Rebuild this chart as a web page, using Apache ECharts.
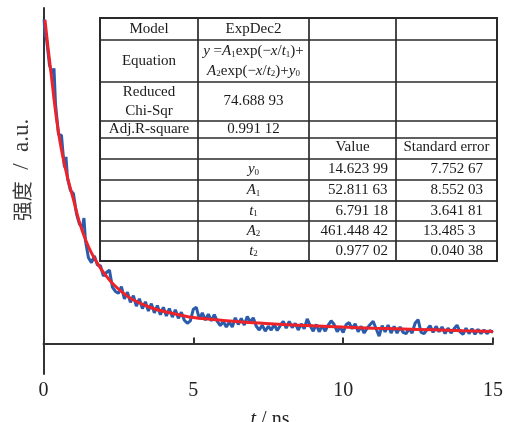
<!DOCTYPE html>
<html>
<head>
<meta charset="utf-8">
<script src="https://cdn.jsdelivr.net/npm/echarts@6/dist/echarts.min.js"></script>
<style>
  html, body { margin: 0; padding: 0; background: #fff; }
  #chart { width: 506px; height: 422px; }
</style>
</head>
<body>
<div id="chart"></div>
<script>
// Measured fluorescence decay (time in ns, intensity in a.u.)
const decayTime = [
  0.02, 0.05, 0.1, 0.2, 0.3, 0.35, 0.4, 0.5, 0.6, 0.65, 0.7, 0.75, 0.8, 0.9,
  1.0, 1.1, 1.2, 1.3, 1.35, 1.4, 1.5, 1.6, 1.7, 1.8, 1.9,
  2.0, 2.1, 2.2, 2.3, 2.4, 2.5, 2.6, 2.7, 2.8, 2.9,
  3.0, 3.1, 3.2, 3.3, 3.4, 3.5, 3.6, 3.7, 3.8, 3.9,
  4.0, 4.1, 4.2, 4.3, 4.4, 4.5, 4.6, 4.7, 4.8, 4.9,
  5.0, 5.1, 5.2, 5.3, 5.4, 5.5, 5.6, 5.7, 5.8, 5.9,
  6.0, 6.1, 6.2, 6.3, 6.4, 6.5, 6.6, 6.7, 6.8, 6.9,
  7.0, 7.1, 7.2, 7.3, 7.4, 7.5, 7.6, 7.7, 7.8, 7.9,
  8.0, 8.1, 8.2, 8.3, 8.4, 8.5, 8.6, 8.7, 8.8, 8.9,
  9.0, 9.1, 9.2, 9.3, 9.4, 9.5, 9.6, 9.7, 9.8, 9.9,
  10.0, 10.1, 10.2, 10.3, 10.4, 10.5, 10.6, 10.7, 10.8, 10.9,
  11.0, 11.1, 11.2, 11.3, 11.4, 11.5, 11.6, 11.7, 11.8, 11.9,
  12.0, 12.1, 12.2, 12.3, 12.4, 12.5, 12.6, 12.7, 12.8, 12.9,
  13.0, 13.1, 13.2, 13.3, 13.4, 13.5, 13.6, 13.7, 13.8, 13.9,
  14.0, 14.1, 14.2, 14.3, 14.4, 14.5, 14.6, 14.7, 14.8, 14.9, 15.0
];
const decayIntensity = [
  530, 505, 498, 455, 440, 450, 392, 342, 340, 312, 288, 305, 270, 250,
  245, 212, 195, 190, 205, 168, 140, 132, 143, 128, 127,
  110, 116, 120, 92, 85, 82, 93, 73, 84, 67,
  78, 61, 73, 57, 68, 53, 65, 50, 62, 47,
  59, 45, 57, 43, 55, 41, 51, 38, 33, 37,
  56, 59, 40, 50, 38, 48, 37, 47, 36, 29,
  36, 27, 35, 27, 42, 31, 41, 30, 44, 35,
  42, 28, 22, 30, 20, 28, 22, 31, 21, 29,
  36, 25, 36, 26, 33, 22, 32, 24, 40, 29,
  20, 31, 19, 29, 20, 30, 37, 31, 19, 27,
  18, 31, 34, 24, 32, 19, 28, 17, 25, 31,
  36, 24, 12, 29, 19, 30, 17, 28, 17, 27,
  18, 16, 24, 17, 33, 39, 18, 16, 23, 29,
  18, 28, 19, 27, 16, 25, 17, 24, 30, 19,
  15, 25, 16, 24, 15, 23, 16, 22, 16, 21, 18
];

// ExpDec2 fitted curve
const fitTime = [0.05, 0.15, 0.25, 0.35, 0.45, 0.55, 0.65, 0.75, 0.85, 1.0, 1.2, 1.4, 1.6, 1.8, 2.0,
  2.25, 2.5, 2.75, 3.0, 3.5, 4.0, 4.5, 5.0, 6, 7, 8, 9, 10, 11, 12, 13, 14, 15];
const fitIntensity = [529, 484, 443, 400, 362, 330, 304, 282, 262, 235, 198, 170, 148, 131, 116,
  101, 89, 79, 71, 60, 52.5, 47, 42.5, 37.5, 33.8, 31, 28.7, 26.7, 25, 23.6, 22.2, 20.8, 19.5];

const xTicks = [0, 5, 10, 15];

// Fit report table
const summaryLabels = ['Model', 'Equation', 'Reduced\nChi-Sqr', 'Adj.R-square'];
const summaryValues = ['ExpDec2', null, '74.688 93', '0.991 12'];
const equationLines = [
  '{i|y} ={i|A}{s|1}exp(\u2212{i|x}/{i|t}{s|1})+',
  '{i|A}{s|2}exp(\u2212{i|x}/{i|t}{s|2})+{i|y}{s|0}'
];
const paramHeaders = ['Value', 'Standard error'];
const paramNames = ['{i|y}{s|0}', '{i|A}{s|1}', '{i|t}{s|1}', '{i|A}{s|2}', '{i|t}{s|2}'];
const paramValues = ['14.623 99', '52.811 63', '6.791 18', '461.448 42', '0.977 02'];
const paramErrors = ['7.752 67', '8.552 03', '3.641 81', '13.485 3', '0.040 38'];

const SERIF = '"Liberation Serif", "Times New Roman", serif';
const TXT = '#1a1a1a';
const richStyles = {
  i: { fontStyle: 'italic', fontFamily: SERIF, fontSize: 15, fill: TXT },
  s: { fontFamily: SERIF, fontSize: 9, verticalAlign: 'bottom', fill: TXT }
};

const chart = echarts.init(document.getElementById('chart'), null, { renderer: 'canvas' });

// table geometry
const colX = [100, 198, 309, 396, 497];
const rowY = [18, 40, 82, 121, 138, 159, 180, 201, 221, 241, 261];
const lineColor = '#2a2a2a';

function cellText(text, x, y, align, extra) {
  return Object.assign({
    type: 'text', z: 20, x: x, y: y,
    style: {
      text: text, fontFamily: SERIF, fontSize: 15, fill: TXT,
      align: align || 'center', verticalAlign: 'middle', rich: richStyles
    }
  }, extra || {});
}

const tableEls = [];
tableEls.push({
  type: 'rect', z: 10,
  shape: { x: colX[0], y: rowY[0], width: colX[4] - colX[0], height: rowY[10] - rowY[0] },
  style: { fill: '#fff', stroke: lineColor, lineWidth: 2 }
});
for (let r = 1; r < rowY.length - 1; r++) {
  tableEls.push({ type: 'line', z: 11, shape: { x1: colX[0], y1: rowY[r], x2: colX[4], y2: rowY[r] },
    style: { stroke: lineColor, lineWidth: 1.7 } });
}
for (let c = 1; c < colX.length - 1; c++) {
  tableEls.push({ type: 'line', z: 11, shape: { x1: colX[c], y1: rowY[0], x2: colX[c], y2: rowY[10] },
    style: { stroke: lineColor, lineWidth: 1.7 } });
}
const mid = (a, b) => (a + b) / 2;
const c1 = mid(colX[0], colX[1]), c2 = mid(colX[1], colX[2]);
const c3 = mid(colX[2], colX[3]), c4 = mid(colX[3], colX[4]);

// summary rows
summaryLabels.forEach((lab, i) => {
  const yc = mid(rowY[i], rowY[i + 1]);
  if (lab.indexOf('\n') >= 0) {
    const parts = lab.split('\n');
    tableEls.push(cellText(parts[0], c1, yc - 9.5));
    tableEls.push(cellText(parts[1], c1, yc + 9.5));
  } else {
    tableEls.push(cellText(lab, c1, yc));
  }
  if (summaryValues[i] !== null) tableEls.push(cellText(summaryValues[i], c2, yc));
});
tableEls.push(cellText(equationLines[0], c2, 51.5));
tableEls.push(cellText(equationLines[1], c2, 71));

// parameter header
tableEls.push(cellText(paramHeaders[0], c3, mid(rowY[4], rowY[5]) - 1));
tableEls.push(cellText(paramHeaders[1], c4, mid(rowY[4], rowY[5]) - 1));

// parameter rows, numbers aligned on the decimal point
const dot3 = 343, dot4 = 438;
function decimalCell(str, xDot, yc) {
  const k = str.indexOf('.');
  return [cellText(str.slice(0, k), xDot, yc, 'right'), cellText(str.slice(k), xDot, yc, 'left')];
}
paramNames.forEach((nm, i) => {
  const yc = mid(rowY[5 + i], rowY[6 + i]);
  tableEls.push(cellText(nm, c2, yc));
  tableEls.push(...decimalCell(paramValues[i], dot3, yc));
  tableEls.push(...decimalCell(paramErrors[i], dot4, yc));
});

// axis titles
const axisTitles = [
  {
    type: 'text', z: 20, x: 22, y: 170, rotation: Math.PI / 2,
    style: {
      text: '{c|强度}\u2002/\u2002a.u.', fontFamily: SERIF, fontSize: 23, fill: '#3a3a3a',
      align: 'center', verticalAlign: 'middle',
      rich: { c: { fontFamily: '"Noto Sans CJK SC", sans-serif', fontSize: 20, fill: '#3a3a3a' } }
    }
  },
  {
    type: 'text', z: 20, x: 270, y: 420,
    style: {
      text: '{i|t} / ns', fontFamily: SERIF, fontSize: 20, fill: '#222',
      align: 'center', verticalAlign: 'middle',
      rich: { i: { fontStyle: 'italic', fontFamily: SERIF, fontSize: 20, fill: '#222' } }
    }
  }
];

const option = {
  animation: false,
  backgroundColor: '#fff',
  grid: { left: 43.5, right: 9.5, top: 8, bottom: 48 },
  xAxis: {
    type: 'value', min: xTicks[0], max: xTicks[xTicks.length - 1], interval: 5,
    axisLine: { lineStyle: { color: '#333', width: 2 } },
    axisTick: { inside: true, length: 6, lineStyle: { color: '#333', width: 2 } },
    axisLabel: { fontFamily: SERIF, fontSize: 20, color: '#222', margin: 7 },
    splitLine: { show: false }
  },
  yAxis: {
    type: 'value', min: -50, max: 548.5,
    axisLine: { show: true, lineStyle: { color: '#333', width: 2 } },
    axisTick: { show: false },
    axisLabel: { show: false },
    splitLine: { show: false }
  },
  series: [
    {
      type: 'line', name: 'data', showSymbol: false, symbol: 'none',
      data: decayTime.map((t, i) => [t, decayIntensity[i]]),
      lineStyle: { color: '#2b5cab', width: 3 },
      z: 2
    },
    {
      type: 'line', name: 'fit', showSymbol: false, symbol: 'none', smooth: 0.35,
      data: fitTime.map((t, i) => [t, fitIntensity[i]]),
      lineStyle: { color: '#ee2229', width: 3 },
      z: 3
    }
  ],
  graphic: tableEls.concat(axisTitles)
};
chart.setOption(option);
</script>
</body>
</html>
